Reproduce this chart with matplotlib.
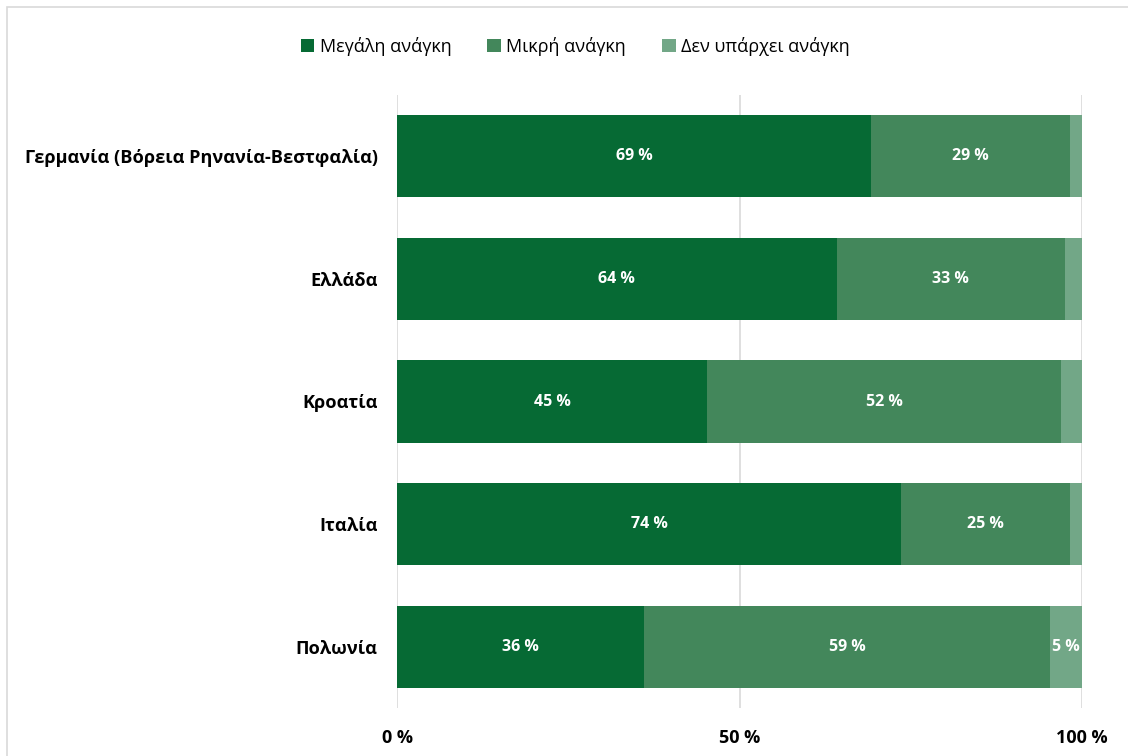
import matplotlib
matplotlib.use('Agg')
import matplotlib.pyplot as plt
from matplotlib.patches import Rectangle
import numpy as np

plt.rcParams['font.family'] = ['Open Sans', 'DejaVu Sans']

regions = ['Γερμανία (Βόρεια Ρηνανία-Βεστφαλία)', 'Ελλάδα', 'Κροατία', 'Ιταλία', 'Πολωνία']
series_names = ['Μεγάλη ανάγκη', 'Μικρή ανάγκη', 'Δεν υπάρχει ανάγκη']
big_need = [69.2, 64.2, 45.3, 73.6, 36.1]
small_need = [29.0, 33.3, 51.6, 24.6, 59.2]
no_need = [1.8, 2.5, 3.1, 1.8, 4.7]
x_ticks = [0, 50, 100]
x_tick_labels = ['0 %', '50 %', '100 %']

colors = ['#066a34', '#43875b', '#72a787']

fig = plt.figure(figsize=(11.28, 7.56), dpi=100)
ax = fig.add_axes([397 / 1128, 1 - 708 / 756, 685 / 1128, (708 - 95) / 756])

# light frame round the whole figure
fig.patches.append(Rectangle((7 / 1128, -0.01), 1.02, 1 - 7 / 756 + 0.01, transform=fig.transFigure,
                             fill=False, edgecolor='#d9d9d9', linewidth=1.2))

y = np.arange(len(regions))[::-1]
left = np.zeros(len(regions))
for name, vals, c in zip(series_names, [big_need, small_need, no_need], colors):
    vals = np.array(vals)
    bars = ax.barh(y, vals, left=left, height=0.67, color=c, label=name, zorder=2)
    for b, v in zip(bars, vals):
        if v >= 4.5:
            ax.text(b.get_x() + b.get_width() / 2, b.get_y() + b.get_height() / 2,
                    f'{v:.0f} %', ha='center', va='center', color='white',
                    fontsize=11.5, fontweight='bold', zorder=3)
    left += vals

ax.set_xlim(0, 100)
ax.set_ylim(-0.5, 4.5)
ax.set_yticks(y)
ax.set_yticklabels(regions, fontsize=13.1, fontweight='bold')
ax.set_xticks(x_ticks)
ax.set_xticklabels(x_tick_labels, fontsize=13, fontweight='bold')
ax.tick_params(axis='both', length=0)
ax.tick_params(axis='y', pad=14)
ax.tick_params(axis='x', pad=15)
ax.xaxis.grid(True, color='#d9d9d9', linewidth=1.2, zorder=0)
ax.set_axisbelow(True)
for s in ax.spines.values():
    s.set_visible(False)

fig.legend(loc='center', bbox_to_anchor=(0.51, 1 - 46 / 756), ncol=3, frameon=False,
           fontsize=13, handlelength=0.75, handleheight=0.75, handletextpad=0.3,
           columnspacing=2.0)

fig.savefig('out.png', dpi=100)
